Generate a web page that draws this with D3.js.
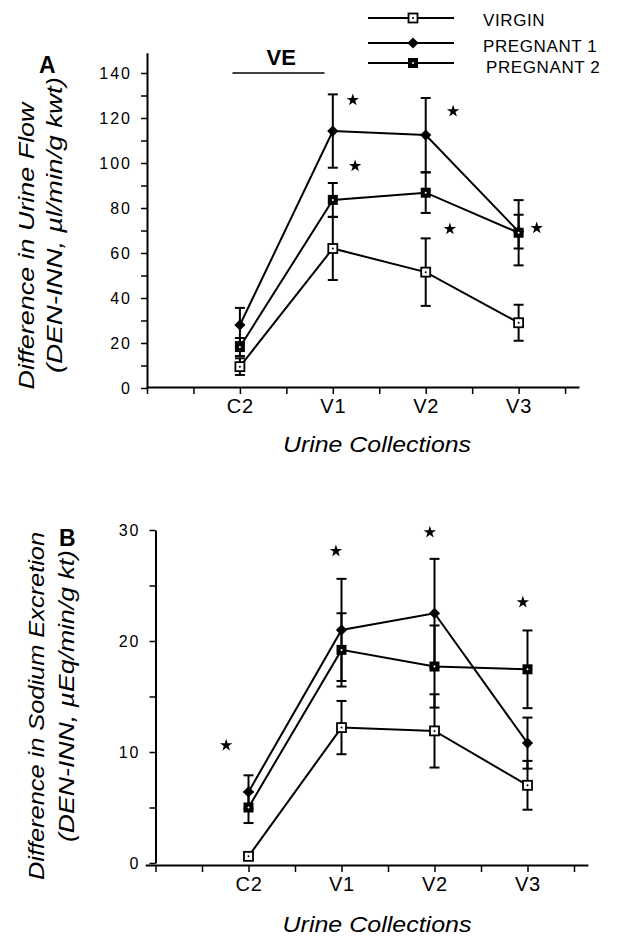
<!DOCTYPE html>
<html><head><meta charset="utf-8">
<script src="https://cdn.jsdelivr.net/npm/d3@7"></script>
<style>
html,body{margin:0;padding:0;background:#fff;}
svg{display:block;font-family:"Liberation Sans",Arial,Helvetica,sans-serif;}
</style></head>
<body>
<script>
// ---------- data ----------
const categories = ["C2", "V1", "V2", "V3"];
const catPositions = [2, 4, 6, 8];
const seriesNames = ["VIRGIN", "PREGNANT 1", "PREGNANT 2"];

// Panel A: urine flow difference (µl/min/g kwt)
const flowVirgin = [9.5, 62, 51.5, 29];
const flowVirginErr = [3.7, 14, 15, 8];
const flowPreg1 = [28, 114.2, 112.4, 69.5];
const flowPreg1Err = [7.6, 16.3, 16.5, 7.5];
const flowPreg2 = [18.2, 83.6, 86.8, 69];
const flowPreg2Err = [4, 7.5, 9, 14.5];
const flowTicks = [0, 20, 40, 60, 80, 100, 120, 140];
const flowStars = [[4.43, 128], [6.59, 123], [4.48, 98.7], [6.52, 70.7], [8.39, 71.1]];

// Panel B: sodium excretion difference (µEq/min/g kt)
const naVirgin = [0.6, 12.2, 11.9, 7.0];
const naVirginErr = [0.3, 2.4, 3.3, 2.2];
const naPreg1 = [6.4, 21.0, 22.5, 10.8];
const naPreg1Err = [1.5, 4.6, 4.9, 2.3];
const naPreg2 = [5.0, 19.2, 17.7, 17.45];
const naPreg2Err = [1.4, 3.3, 3.7, 3.5];
const naTicks = [0, 10, 20, 30];
const naStars = [[1.52, 10.6], [3.88, 28.1], [5.9, 29.8], [7.9, 23.5]];

// ---------- drawing ----------
const W = 624, H = 939;
const svg = d3.select("body").append("svg").attr("width", W).attr("height", H);
const FONT = '"Liberation Sans",Arial,Helvetica,sans-serif';

function marker(g, type, cx, cy) {
  if (type === 0) { // open square with dot
    g.append("rect").attr("x", cx - 4.5).attr("y", cy - 4.5).attr("width", 9).attr("height", 9)
      .attr("fill", "#fff").attr("stroke", "#000").attr("stroke-width", 1.8);
    g.append("circle").attr("cx", cx).attr("cy", cy).attr("r", 1).attr("fill", "#000");
  } else if (type === 1) { // filled diamond
    g.append("path").attr("d", d3.symbol(d3.symbolDiamond2, 80)()).attr("transform", `translate(${cx},${cy})`).attr("fill", "#000");
  } else { // filled square with white dot
    g.append("rect").attr("x", cx - 5).attr("y", cy - 5).attr("width", 10).attr("height", 10).attr("fill", "#000");
    g.append("circle").attr("cx", cx).attr("cy", cy).attr("r", 1).attr("fill", "#fff");
  }
}

function panel(cfg) {
  const g = svg.append("g");
  const x = d3.scaleLinear().domain(cfg.xDomain).range(cfg.xRange);
  const y = d3.scaleLinear().domain(cfg.yDomain).range(cfg.yRange);

  // y axis
  const ya = g.append("g").attr("transform", `translate(${x(0)},0)`)
    .call(d3.axisLeft(y).tickValues(cfg.yMinor).tickSize(6).tickSizeOuter(0).tickPadding(9)
      .tickFormat(d => cfg.yTicks.includes(d) ? d : ""));
  ya.select(".domain").attr("stroke-width", 2);
  ya.selectAll(".tick line").attr("stroke-width", 1.5);
  ya.selectAll("text").attr("font-size", 16).attr("letter-spacing", 2).attr("font-family", FONT).attr("fill", "#000");

  // x axis
  const xa = g.append("g").attr("transform", `translate(0,${cfg.xAxisY})`)
    .call(d3.axisBottom(x).tickValues(d3.range(0, 10)).tickSize(7).tickSizeOuter(0).tickPadding(5)
      .tickFormat(d => { const i = catPositions.indexOf(d); return i >= 0 ? categories[i] : ""; }));
  xa.select(".domain").attr("stroke-width", 2);
  xa.selectAll(".tick line").attr("stroke-width", 1.5);
  xa.selectAll("text").attr("font-size", 20).attr("letter-spacing", 0.8).attr("font-family", FONT).attr("fill", "#000");

  // series
  const series = cfg.series;
  const line = d3.line().x((d, i) => x(catPositions[i])).y(d => y(d));
  series.forEach(s => {
    g.append("path").attr("d", line(s.v)).attr("fill", "none").attr("stroke", "#000").attr("stroke-width", 2);
  });
  series.forEach(s => {
    s.v.forEach((v, i) => {
      const cx = x(catPositions[i]);
      const y1 = y(v + s.e[i]), y0 = y(v - s.e[i]);
      g.append("line").attr("x1", cx).attr("x2", cx).attr("y1", y1).attr("y2", y0).attr("stroke", "#000").attr("stroke-width", 2);
      [y1, y0].forEach(yy => g.append("line").attr("x1", cx - 5).attr("x2", cx + 5).attr("y1", yy).attr("y2", yy)
        .attr("stroke", "#000").attr("stroke-width", 2));
    });
  });
  series.forEach(s => {
    s.v.forEach((v, i) => marker(g, s.type, x(catPositions[i]), y(v)));
  });
  // stars
  cfg.stars.forEach(p => {
    g.append("path").attr("d", d3.symbol(d3.symbolStar, 48)()).attr("transform", `translate(${x(p[0])},${y(p[1])})`).attr("fill", "#000");
  });

  // axis titles
  g.append("text").attr("x", cfg.xTitle[0]).attr("y", cfg.xTitle[1]).attr("text-anchor", "middle")
    .attr("font-size", 22).attr("font-style", "italic").attr("textLength", cfg.xTitle[2]).attr("lengthAdjust", "spacingAndGlyphs")
    .text("Urine Collections");
  cfg.yTitles.forEach(t => {
    g.append("text").attr("transform", `translate(${t.x},${t.y}) rotate(-90)`).attr("text-anchor", "middle")
      .attr("font-size", 22).attr("font-style", "italic").attr("textLength", t.len).attr("lengthAdjust", "spacingAndGlyphs")
      .text(t.text);
  });
  g.append("text").attr("x", cfg.letter[0]).attr("y", cfg.letter[1]).attr("font-size", 23).attr("font-weight", "bold")
    .text(cfg.letter[2]);
  return {x, y, g};
}

const A = panel({
  xDomain: [0, 9.3], xRange: [147, 579],
  yDomain: [0, 149], yRange: [388, 388 - 149 * 2.25],
  xAxisY: 387,
  yMinor: d3.range(0, 150, 10), yTicks: flowTicks,
  series: [
    {v: flowVirgin, e: flowVirginErr, type: 0},
    {v: flowPreg1, e: flowPreg1Err, type: 1},
    {v: flowPreg2, e: flowPreg2Err, type: 2}
  ],
  stars: flowStars,
  xTitle: [377, 452, 188],
  yTitles: [
    {x: 34, y: 246, len: 287, text: "Difference in Urine Flow"},
    {x: 62, y: 225, len: 296, text: "(DEN-INN,  \u00b5l/min/g kwt)"}
  ],
  letter: [39, 73, "A"]
});

// VE bar
A.g.append("line").attr("x1", A.x(1.84)).attr("x2", A.x(3.82)).attr("y1", A.y(140)).attr("y2", A.y(140))
  .attr("stroke", "#000").attr("stroke-width", 1.6);
A.g.append("text").attr("x", A.x(2.89)).attr("y", A.y(140) - 8).attr("text-anchor", "middle")
  .attr("font-size", 22).attr("font-weight", "bold").text("VE");

panel({
  xDomain: [-0.22, 9.3], xRange: [155.5 - 0.22 * 46.5, 155.5 + 9.3 * 46.5],
  yDomain: [0, 30], yRange: [863, 530],
  xAxisY: 865,
  yMinor: d3.range(0, 31, 5), yTicks: naTicks,
  series: [
    {v: naVirgin, e: naVirginErr, type: 0},
    {v: naPreg1, e: naPreg1Err, type: 1},
    {v: naPreg2, e: naPreg2Err, type: 2}
  ],
  stars: naStars,
  xTitle: [377, 932, 189],
  yTitles: [
    {x: 44, y: 706, len: 348, text: "Difference in Sodium Excretion"},
    {x: 74, y: 696, len: 292, text: "(DEN-INN, \u00b5Eq/min/g kt)"}
  ],
  letter: [59, 546, "B"]
});

// legend
const legY = [18, 43, 63];
const legTextY = [26, 52, 73];
const leg = svg.append("g");
seriesNames.forEach((name, i) => {
  leg.append("line").attr("x1", 368).attr("x2", 454).attr("y1", legY[i]).attr("y2", legY[i])
    .attr("stroke", "#000").attr("stroke-width", 2);
  marker(leg, i, 413, legY[i]);
  leg.append("text").attr("x", i === 2 ? 486 : 483).attr("y", legTextY[i]).attr("font-size", 17)
    .attr("letter-spacing", 0.6).text(name);
});
</script>
</body></html>
